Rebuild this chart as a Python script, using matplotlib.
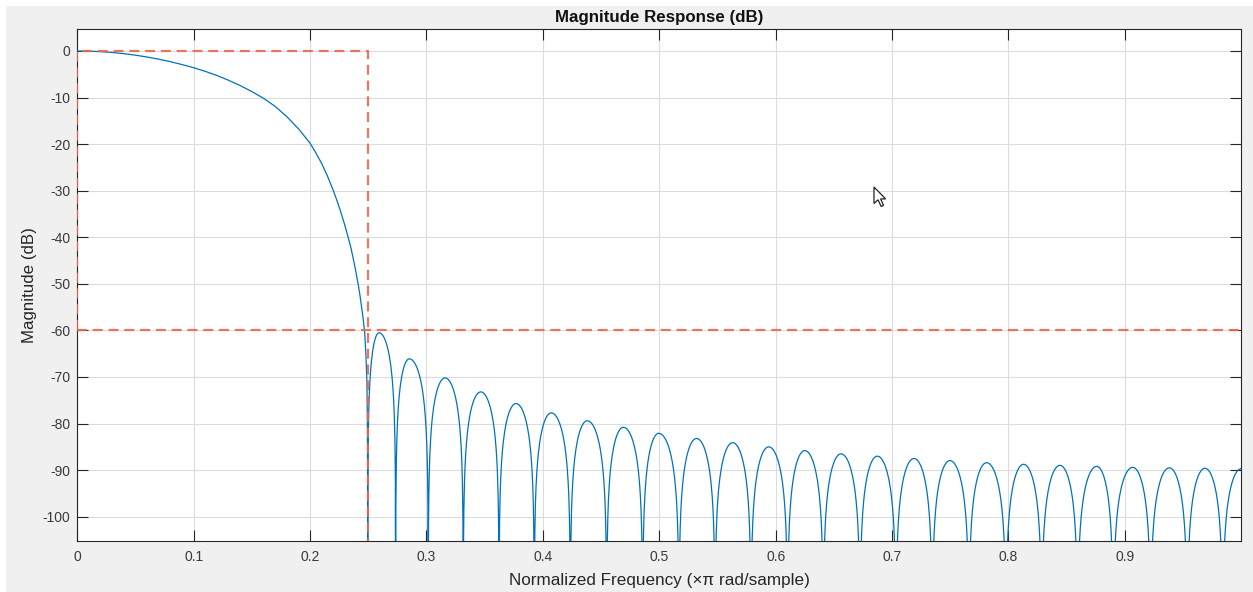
import numpy as np
import matplotlib
matplotlib.use("Agg")
import matplotlib.pyplot as plt
from matplotlib.patches import Rectangle, Polygon

plt.rcParams["font.family"] = ["Liberation Sans", "DejaVu Sans"]
plt.rcParams["axes.unicode_minus"] = False

# ---- data -------------------------------------------------------------
# main lobe of the magnitude response (normalized freq, dB)
main_freq = [0.000, 0.010, 0.020, 0.030, 0.040, 0.050, 0.060, 0.070, 0.080,
             0.090, 0.100, 0.110, 0.120, 0.130, 0.140, 0.150, 0.160, 0.170,
             0.180, 0.190, 0.200, 0.205, 0.210, 0.215, 0.220, 0.2232, 0.2264,
             0.2296, 0.2328, 0.2350, 0.2370, 0.2392, 0.2413, 0.2428, 0.2440,
             0.2455, 0.2469, 0.2480, 0.2488, 0.2492, 0.2494, 0.2495]
main_db = [0.0, -0.04, -0.14, -0.32, -0.58, -0.9, -1.3, -1.76, -2.3,
           -2.92, -3.6, -4.38, -5.27, -6.29, -7.43, -8.72, -10.16, -11.9,
           -14.1, -16.7, -19.8, -21.9, -24.2, -26.9, -30.0, -32.2, -34.6,
           -37.2, -40.1, -42.2, -44.5, -47.2, -50.1, -52.4, -54.5,
           -57.3, -60.4, -65.5, -71.0, -79.0, -90.0, -140.0]

# stopband: null frequencies and sidelobe peaks
null_freq = [0.2495, 0.2735, 0.3015, 0.3316, 0.3623, 0.3926, 0.4236, 0.4548,
             0.4857, 0.5169, 0.5479, 0.5788, 0.6102, 0.6409, 0.6724, 0.7033,
             0.7345, 0.7660, 0.7978, 0.8285, 0.8594, 0.8900, 0.9221, 0.9536,
             0.9840, 1.0160]
peak_freq = [0.2592, 0.2852, 0.3159, 0.3466, 0.3769, 0.4072, 0.4381, 0.4691,
             0.4995, 0.5320, 0.5630, 0.5940, 0.6250, 0.6561, 0.6873, 0.7188,
             0.7497, 0.7812, 0.8130, 0.8442, 0.8758, 0.9067, 0.9382, 0.9688,
             1.0000]
peak_db = [-60.5, -66.1, -70.2, -73.2, -75.7, -77.7, -79.4, -80.8,
           -82.1, -83.2, -84.1, -85.0, -85.8, -86.5, -87.0, -87.5,
           -87.95, -88.4, -88.75, -88.97, -89.2, -89.4, -89.5, -89.6,
           -89.7]

# specification mask
pass_edge = 0.25
pass_db = 0.0
stop_db = -60.0

x_ticks = [0.0, 0.1, 0.2, 0.3, 0.4, 0.5, 0.6, 0.7, 0.8, 0.9]
x_tick_labels = ["0", "0.1", "0.2", "0.3", "0.4", "0.5", "0.6", "0.7", "0.8", "0.9"]
y_ticks = [-100, -90, -80, -70, -60, -50, -40, -30, -20, -10, 0]
y_tick_labels = ["-100", "-90", "-80", "-70", "-60", "-50", "-40", "-30", "-20", "-10", "0"]

# ---- build the stopband lobes between successive nulls -----------------
freq = list(main_freq)
mag = list(main_db)
t = np.linspace(0.0, 1.0, 60)
for k in range(len(peak_freq)):
    nl, nr, pk, pdb = null_freq[k], null_freq[k + 1], peak_freq[k], peak_db[k]
    fl = nl + t * (pk - nl)
    fr = pk + t[1:] * (nr - pk)
    ph = np.concatenate([t * np.pi / 2, np.pi / 2 + t[1:] * np.pi / 2])
    shape = 20 * np.log10(np.maximum(np.abs(np.sin(ph)), 1e-7))
    freq.extend(np.concatenate([fl, fr]))
    mag.extend(pdb + shape)
freq = np.array(freq)
mag = np.array(mag)

# ---- figure -----------------------------------------------------------
W, H = 1253, 592
fig = plt.figure(figsize=(W / 100, H / 100), dpi=100, facecolor="white")
fig.patches.append(Rectangle((6 / W, 0), 1 - 6 / W, 1 - 6 / H,
                             transform=fig.transFigure, facecolor="#f0f0f0",
                             edgecolor="none", zorder=-10))

left, right, top, bottom = 77.3, 1240.7, 29.0, 540.7
ax = fig.add_axes([left / W, 1 - bottom / H, (right - left) / W, (bottom - top) / H])
ax.set_facecolor("white")

ax.plot(freq, mag, color="#0072bd", lw=0.9, zorder=3, solid_joinstyle="round")

mask_kw = dict(color="#e9694b", lw=1.6, dashes=(4.5, 2.6), zorder=4, alpha=0.9)
ax.plot([0, 0, pass_edge, pass_edge], [stop_db, pass_db, pass_db, -200], **mask_kw)
ax.plot([0, 1.0], [stop_db, stop_db], **mask_kw)

ax.set_xlim(0, 0.9995)
ax.set_ylim(-105.15, 4.72)
ax.set_xticks(x_ticks)
ax.set_xticklabels(x_tick_labels)
ax.set_yticks(y_ticks)
ax.set_yticklabels(y_tick_labels)

ax.grid(True, color="#dcdcdc", lw=0.8, zorder=1)
ax.set_axisbelow(True)
for s in ax.spines.values():
    s.set_color("#262626")
    s.set_linewidth(0.8)
ax.tick_params(direction="in", length=8, width=0.8, top=True, right=True,
               color="#262626", labelcolor="#3a3a3a", labelsize=10)
ax.tick_params(axis="x", pad=7)
ax.tick_params(axis="y", pad=5)

ax.set_title("Magnitude Response (dB)", fontsize=12.2, fontweight="bold",
             color="#111111", pad=5)
ax.set_xlabel("Normalized Frequency (×π rad/sample)", fontsize=12.3,
              color="#262626", labelpad=6.5)
ax.set_ylabel("Magnitude (dB)", fontsize=12.2, color="#262626", labelpad=4)

# mouse pointer glyph
tip_x, tip_y = 874.0, 187.0
shape_px = [(0, 0), (0, 16.5), (4, 12.8), (7.2, 19.5), (9.6, 18.4),
            (6.6, 11.9), (11.6, 11.9)]
pts = [((tip_x + dx) / W, 1 - (tip_y + dy) / H) for dx, dy in shape_px]
fig.patches.append(Polygon(pts, closed=True, transform=fig.transFigure,
                           facecolor="white", edgecolor="#222222", lw=0.9,
                           zorder=10))

fig.savefig("out.png", dpi=100, facecolor=fig.get_facecolor())
